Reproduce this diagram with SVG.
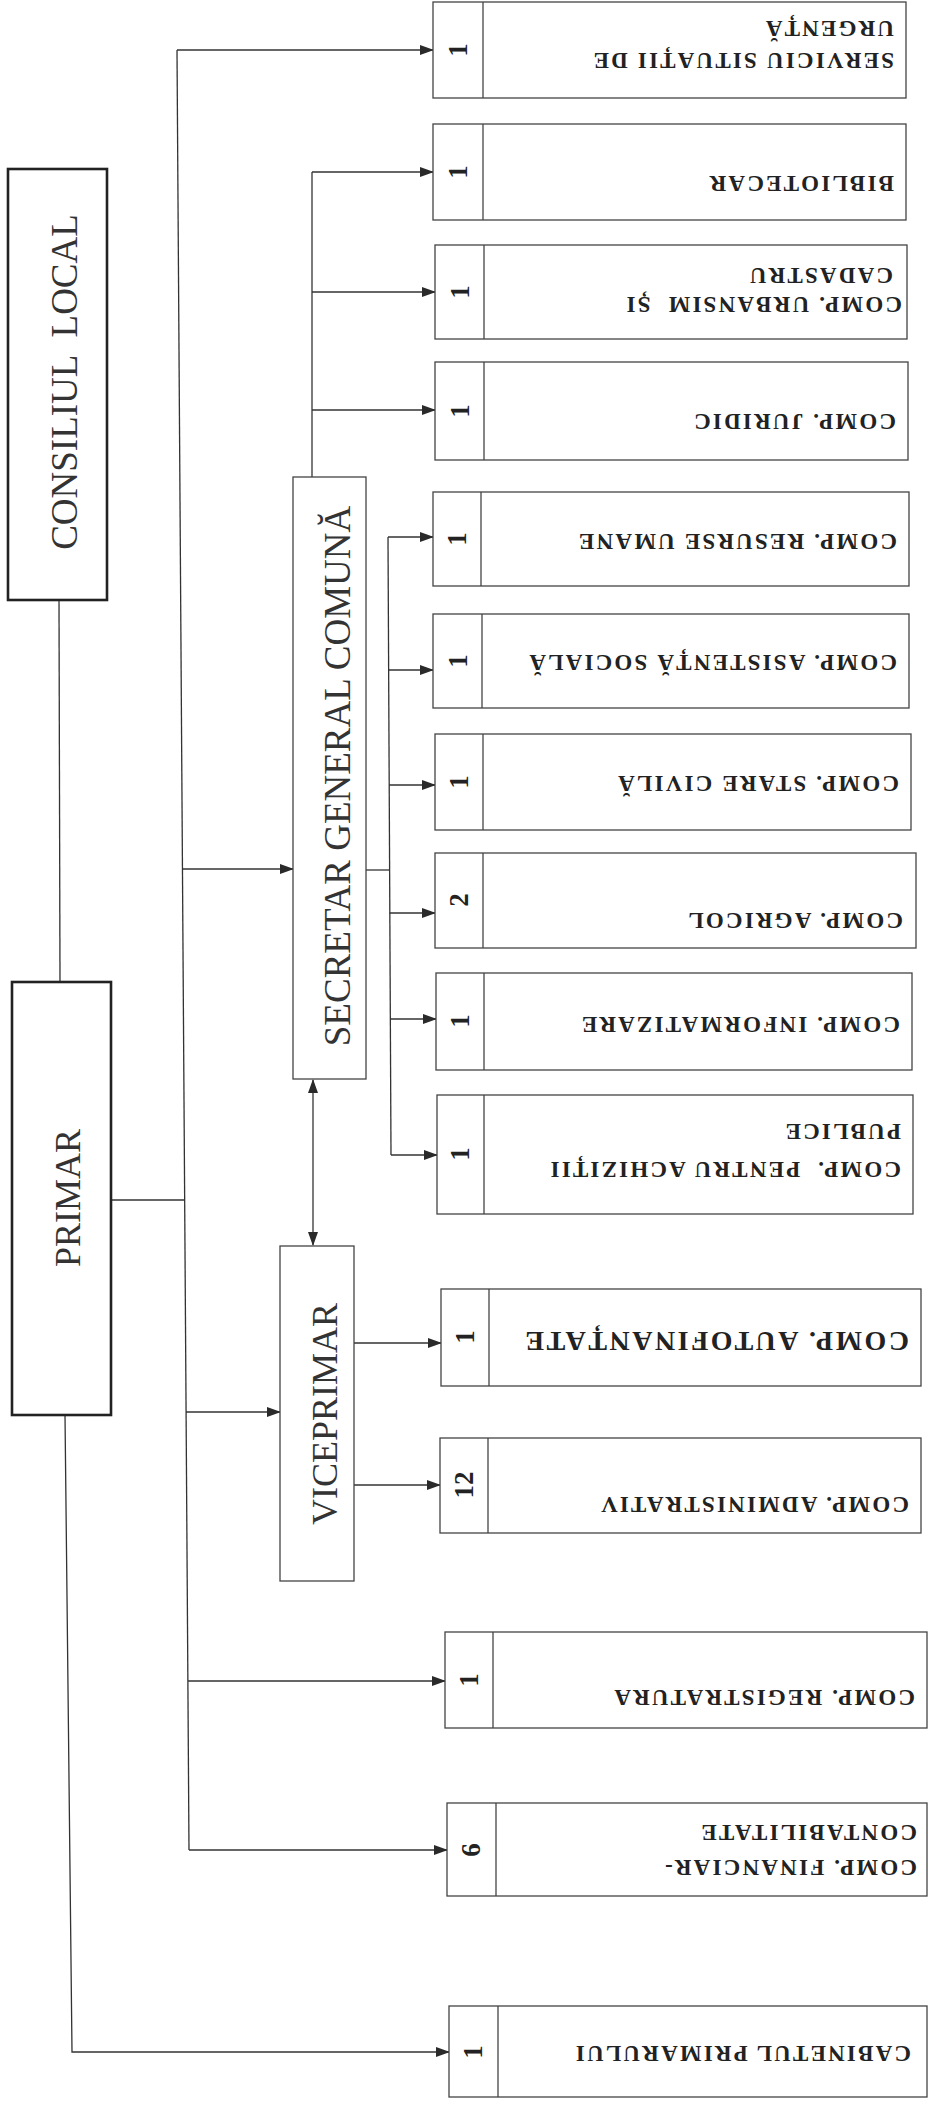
<svg xmlns="http://www.w3.org/2000/svg" width="928" height="2104" viewBox="0 0 928 2104">
<defs>
<marker id="ah" markerUnits="userSpaceOnUse" markerWidth="14" markerHeight="10" refX="13" refY="5" orient="auto-start-reverse" viewBox="0 0 14 10">
<path d="M0,0 L14,5 L0,10 z" fill="#2a2a2a"/>
</marker>
<style>
.bx{fill:#fff;stroke:#444;stroke-width:1.3}
.bxk{fill:#fff;stroke:#222;stroke-width:2.6}
.dv{stroke:#444;stroke-width:1.3}
.ln{stroke:#333;stroke-width:1.3;fill:none}
.ar{stroke:#333;stroke-width:1.3;fill:none;marker-end:url(#ah)}
.t{font-family:"Liberation Serif","Times New Roman",serif;font-weight:bold;font-size:23px;letter-spacing:2.2px;fill:#222;white-space:pre}
.tb{font-family:"Liberation Serif","Times New Roman",serif;font-weight:bold;font-size:28px;letter-spacing:2.5px;fill:#222}
.n{font-family:"Liberation Serif","Times New Roman",serif;font-weight:bold;font-size:27px;fill:#222;text-anchor:middle}
.h{font-family:"Liberation Serif","Times New Roman",serif;font-size:37px;fill:#333;text-anchor:middle;white-space:pre}
</style>
</defs>

<g id="connectors">
<line class="ln" x1="59" y1="600" x2="60" y2="982"/>
<line class="ln" x1="111" y1="1200" x2="184" y2="1200"/>
<line class="ln" x1="177" y1="50" x2="189" y2="1850"/>
<line class="ar" x1="177" y1="50" x2="433" y2="50"/>
<line class="ar" x1="182.5" y1="869" x2="293" y2="869"/>
<line class="ar" x1="186" y1="1412" x2="280" y2="1412"/>
<line class="ar" x1="188" y1="1681" x2="445" y2="1681"/>
<line class="ar" x1="189" y1="1850" x2="447" y2="1850"/>
<path class="ar" d="M65,1415 L72,2052 L449,2052"/>
<line class="ln" x1="312" y1="477" x2="312" y2="172"/>
<line class="ar" x1="312" y1="172" x2="433" y2="172"/>
<line class="ar" x1="312" y1="292" x2="435" y2="292"/>
<line class="ar" x1="312" y1="410" x2="435" y2="410"/>
<line class="ln" x1="366" y1="870" x2="389" y2="870"/>
<line class="ln" x1="388" y1="537" x2="391" y2="1155"/>
<line class="ar" x1="388" y1="537" x2="433" y2="537"/>
<line class="ar" x1="388.6" y1="670" x2="433" y2="670"/>
<line class="ar" x1="389" y1="785" x2="435" y2="785"/>
<line class="ar" x1="389.5" y1="913" x2="435" y2="913"/>
<line class="ar" x1="390" y1="1019" x2="436" y2="1019"/>
<line class="ar" x1="391" y1="1155" x2="437" y2="1155"/>
<line class="ar" x1="313" y1="1080" x2="313" y2="1245" style="marker-start:url(#ah)"/>
<line class="ar" x1="354" y1="1343" x2="441" y2="1343"/>
<line class="ar" x1="354" y1="1485" x2="440" y2="1485"/>
</g>

<g id="consiliul-local">
<rect class="bxk" x="8" y="169" width="99" height="431"/>
<text class="h" transform="translate(77,382) rotate(-90)">CONSILIUL  LOCAL</text>
</g>

<g id="primar">
<rect class="bxk" x="12" y="982" width="99" height="433"/>
<text class="h" transform="translate(80,1198) rotate(-90)" style="font-size:36px">PRIMAR</text>
</g>

<g id="secretar">
<rect class="bx" x="293" y="477" width="73" height="602"/>
<text class="h" transform="translate(350,776) rotate(-90)">SECRETAR GENERAL COMUNĂ</text>
</g>

<g id="viceprimar">
<rect class="bx" x="280" y="1246" width="74" height="335"/>
<text class="h" style="font-size:36px" transform="translate(337,1414) rotate(-90)">VICEPRIMAR</text>
</g>

<g id="serviciu-urgenta">
<rect class="bx" x="433" y="2" width="473" height="96"/>
<line class="dv" x1="483" y1="2" x2="483" y2="98"/>
<text class="n" transform="translate(467,50) rotate(-90)">1</text>
<text class="t" transform="translate(894,53) rotate(180)">SERVICIU SITUAȚII DE</text>
<text class="t" transform="translate(894,21) rotate(180)">URGENȚĂ</text>
</g>

<g id="bibliotecar">
<rect class="bx" x="433" y="124" width="473" height="96"/>
<line class="dv" x1="483" y1="124" x2="483" y2="220"/>
<text class="n" transform="translate(467,172) rotate(-90)">1</text>
<text class="t" transform="translate(894,176) rotate(180)">BIBLIOTECAR</text>
</g>

<g id="urbanism">
<rect class="bx" x="435" y="245" width="472" height="94"/>
<line class="dv" x1="484" y1="245" x2="484" y2="339"/>
<text class="n" transform="translate(469,292) rotate(-90)">1</text>
<text class="t" transform="translate(902,297) rotate(180)">COMP. URBANSIM  ȘI</text>
<text class="t" transform="translate(893,268) rotate(180)">CADASTRU</text>
</g>

<g id="juridic">
<rect class="bx" x="435" y="362" width="473" height="98"/>
<line class="dv" x1="484" y1="362" x2="484" y2="460"/>
<text class="n" transform="translate(469,411) rotate(-90)">1</text>
<text class="t" transform="translate(896,414) rotate(180)">COMP. JURIDIC</text>
</g>

<g id="resurse-umane">
<rect class="bx" x="433" y="492" width="476" height="94"/>
<line class="dv" x1="481" y1="492" x2="481" y2="586"/>
<text class="n" transform="translate(466,539) rotate(-90)">1</text>
<text class="t" transform="translate(897,534) rotate(180)">COMP. RESURSE UMANE</text>
</g>

<g id="asistenta-sociala">
<rect class="bx" x="433" y="614" width="476" height="94"/>
<line class="dv" x1="482" y1="614" x2="482" y2="708"/>
<text class="n" transform="translate(467,661) rotate(-90)">1</text>
<text class="t" transform="translate(897,655) rotate(180)">COMP. ASISTENȚĂ SOCIALĂ</text>
</g>

<g id="stare-civila">
<rect class="bx" x="435" y="734" width="476" height="96"/>
<line class="dv" x1="483" y1="734" x2="483" y2="830"/>
<text class="n" transform="translate(468,782) rotate(-90)">1</text>
<text class="t" transform="translate(899,776) rotate(180)">COMP. STARE CIVILĂ</text>
</g>

<g id="agricol">
<rect class="bx" x="435" y="853" width="481" height="95"/>
<line class="dv" x1="483" y1="853" x2="483" y2="948"/>
<text class="n" transform="translate(468,900) rotate(-90)">2</text>
<text class="t" transform="translate(903,913) rotate(180)">COMP. AGRICOL</text>
</g>

<g id="informatizare">
<rect class="bx" x="436" y="973" width="476" height="97"/>
<line class="dv" x1="484" y1="973" x2="484" y2="1070"/>
<text class="n" transform="translate(469,1021) rotate(-90)">1</text>
<text class="t" transform="translate(900,1017) rotate(180)">COMP. INFORMATIZARE</text>
</g>

<g id="achizitii-publice">
<rect class="bx" x="437" y="1095" width="476" height="119"/>
<line class="dv" x1="484" y1="1095" x2="484" y2="1214"/>
<text class="n" transform="translate(469,1154) rotate(-90)">1</text>
<text class="t" transform="translate(901,1162) rotate(180)">COMP.  PENTRU ACHIZIȚII</text>
<text class="t" transform="translate(901,1124) rotate(180)">PUBLICE</text>
</g>

<g id="autofinantate">
<rect class="bx" x="441" y="1289" width="480" height="97"/>
<line class="dv" x1="489" y1="1289" x2="489" y2="1386"/>
<text class="n" transform="translate(474,1337) rotate(-90)">1</text>
<text class="tb" transform="translate(909,1332) rotate(180)">COMP. AUTOFINANȚATE</text>
</g>

<g id="administrativ">
<rect class="bx" x="440" y="1438" width="481" height="95"/>
<line class="dv" x1="488" y1="1438" x2="488" y2="1533"/>
<text class="n" transform="translate(473,1485) rotate(-90)">12</text>
<text class="t" transform="translate(909,1497) rotate(180)">COMP. ADMINISTRATIV</text>
</g>

<g id="registratura">
<rect class="bx" x="445" y="1632" width="482" height="96"/>
<line class="dv" x1="493" y1="1632" x2="493" y2="1728"/>
<text class="n" transform="translate(478,1680) rotate(-90)">1</text>
<text class="t" transform="translate(915,1690) rotate(180)">COMP. REGISTRATURA</text>
</g>

<g id="financiar-contabilitate">
<rect class="bx" x="447" y="1803" width="480" height="93"/>
<line class="dv" x1="496" y1="1803" x2="496" y2="1896"/>
<text class="n" transform="translate(480,1850) rotate(-90)">6</text>
<text class="t" transform="translate(917,1860) rotate(180)">COMP. FINANCIAR-</text>
<text class="t" transform="translate(917,1825) rotate(180)">CONTABILITATE</text>
</g>

<g id="cabinetul-primarului">
<rect class="bx" x="449" y="2006" width="478" height="91"/>
<line class="dv" x1="498" y1="2006" x2="498" y2="2097"/>
<text class="n" transform="translate(482,2052) rotate(-90)">1</text>
<text class="t" transform="translate(911,2046) rotate(180)">CABINETUL PRIMARULUI</text>
</g>
</svg>
